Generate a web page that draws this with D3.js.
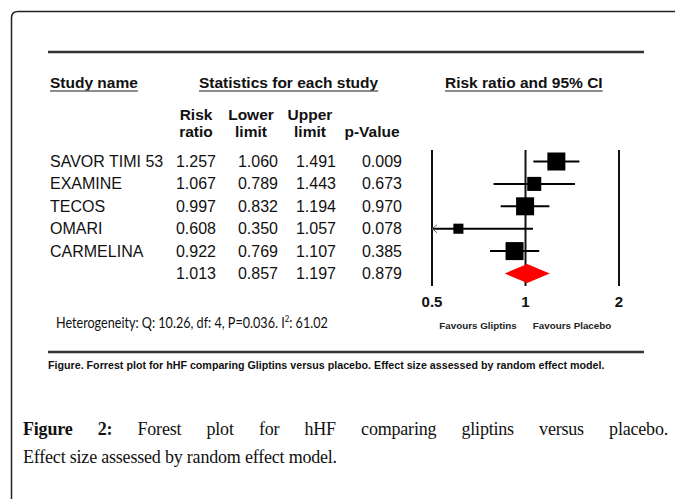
<!DOCTYPE html>
<html>
<head>
<meta charset="utf-8">
<script src="https://cdn.jsdelivr.net/npm/d3@7"></script>
<style>
  body { margin: 0; background: #fff; }
  svg { display: block; }
</style>
</head>
<body>
<svg id="chart"></svg>
<script>
var studies = ["SAVOR TIMI 53", "EXAMINE", "TECOS", "OMARI", "CARMELINA", ""];
var riskRatio = [1.257, 1.067, 0.997, 0.608, 0.922, 1.013];
var lowerLimit = [1.060, 0.789, 0.832, 0.350, 0.769, 0.857];
var upperLimit = [1.491, 1.443, 1.194, 1.057, 1.107, 1.197];
var pValue = ["0.009", "0.673", "0.970", "0.078", "0.385", "0.879"];
// relative weights (estimated from square sizes)
var weights = [25.5, 15.5, 25.5, 8, 25.5];
var axisTicks = [0.5, 1, 2];

var w = 675, h = 499;
var sans = "'Liberation Sans', Arial, sans-serif";

var svg = d3.select("#chart")
    .attr("width", w)
    .attr("height", h);

// frame
svg.append("path")
    .attr("d", "M11.5,499 V18 Q11.5,11.5 18,11.5 H675")
    .attr("fill", "none")
    .attr("stroke", "#222")
    .attr("stroke-width", 1.5);

// top and bottom rules
svg.append("line")
    .attr("x1", 48).attr("x2", 644).attr("y1", 52).attr("y2", 52)
    .attr("stroke", "#333").attr("stroke-width", 2.5);
svg.append("line")
    .attr("x1", 48).attr("x2", 644).attr("y1", 352).attr("y2", 352)
    .attr("stroke", "#333").attr("stroke-width", 2.5);

// headings with underline
function heading(txt, x) {
    var t = svg.append("text")
        .text(txt)
        .attr("x", x).attr("y", 88)
        .attr("font-family", sans)
        .attr("font-size", "15.5px")
        .attr("font-weight", "bold")
        .attr("fill", "#111");
    var len = t.node().getComputedTextLength();
    svg.append("line")
        .attr("x1", x).attr("x2", x + len)
        .attr("y1", 91).attr("y2", 91)
        .attr("stroke", "#666").attr("stroke-width", 1.5);
}
heading("Study name", 50);
heading("Statistics for each study", 199);
heading("Risk ratio and 95% CI", 445);

// column headers
var colHeads = [
    { top: "Risk", bottom: "ratio", x: 196 },
    { top: "Lower", bottom: "limit", x: 251 },
    { top: "Upper", bottom: "limit", x: 310 },
    { top: "", bottom: "p-Value", x: 372 }
];
colHeads.forEach(function (c) {
    svg.append("text").text(c.top)
        .attr("x", c.x).attr("y", 120)
        .attr("text-anchor", "middle")
        .attr("font-family", sans).attr("font-size", "15.5px")
        .attr("font-weight", "bold").attr("fill", "#111");
    svg.append("text").text(c.bottom)
        .attr("x", c.x).attr("y", 137)
        .attr("text-anchor", "middle")
        .attr("font-family", sans).attr("font-size", "15.5px")
        .attr("font-weight", "bold").attr("fill", "#111");
});

// scales
var x = d3.scaleLog().domain([0.5, 2]).range([432, 619]);
var y = d3.scalePoint().domain(d3.range(studies.length)).range([161.5, 273.5]);
var size = d3.scaleSqrt().domain([0, d3.max(weights)]).range([0, 18]);

// table values
var cols = [
    { vals: riskRatio.map(function (d) { return d.toFixed(3); }), x: 216 },
    { vals: lowerLimit.map(function (d) { return d.toFixed(3); }), x: 278 },
    { vals: upperLimit.map(function (d) { return d.toFixed(3); }), x: 336 },
    { vals: pValue, x: 402 }
];
svg.selectAll("text.name")
    .data(studies)
    .enter()
    .append("text")
    .attr("class", "name")
    .text(function (d) { return d; })
    .attr("x", 50)
    .attr("y", function (d, i) { return y(i) + 5.5; })
    .attr("font-family", sans).attr("font-size", "16px").attr("fill", "#111");
cols.forEach(function (c) {
    svg.selectAll(null)
        .data(c.vals)
        .enter()
        .append("text")
        .text(function (d) { return d; })
        .attr("x", c.x)
        .attr("y", function (d, i) { return y(i) + 5.5; })
        .attr("text-anchor", "end")
        .attr("font-family", sans).attr("font-size", "16px").attr("fill", "#111");
});

// reference lines
svg.selectAll("line.ref")
    .data(axisTicks)
    .enter()
    .append("line")
    .attr("class", "ref")
    .attr("x1", function (d) { return x(d); })
    .attr("x2", function (d) { return x(d); })
    .attr("y1", 150).attr("y2", 286)
    .attr("stroke", "#111").attr("stroke-width", 2);

svg.selectAll("text.tick")
    .data(axisTicks)
    .enter()
    .append("text")
    .attr("class", "tick")
    .text(function (d) { return d; })
    .attr("x", function (d) { return x(d); })
    .attr("y", 307)
    .attr("text-anchor", "middle")
    .attr("font-family", sans).attr("font-size", "15px")
    .attr("font-weight", "bold").attr("fill", "#111");

// whiskers
var idx = d3.range(weights.length);
svg.selectAll("line.ci")
    .data(idx)
    .enter()
    .append("line")
    .attr("class", "ci")
    .attr("x1", function (i) { return x(Math.max(lowerLimit[i], 0.5)); })
    .attr("x2", function (i) { return x(Math.min(upperLimit[i], 2)); })
    .attr("y1", function (i) { return y(i); })
    .attr("y2", function (i) { return y(i); })
    .attr("stroke", "#000").attr("stroke-width", 2);

// arrow for clipped lower limits
idx.filter(function (i) { return lowerLimit[i] < 0.5; }).forEach(function (i) {
    var x0 = x(0.5), yy = y(i);
    svg.append("path")
        .attr("d", "M" + (x0 + 5) + "," + (yy - 4) + " L" + x0 + "," + yy + " L" + (x0 + 5) + "," + (yy + 4))
        .attr("fill", "none").attr("stroke", "#666").attr("stroke-width", 1);
});

// squares
svg.selectAll("rect.study")
    .data(idx)
    .enter()
    .append("rect")
    .attr("class", "study")
    .attr("x", function (i) { return x(riskRatio[i]) - size(weights[i]) / 2; })
    .attr("y", function (i) { return y(i) - size(weights[i]) / 2; })
    .attr("width", function (i) { return size(weights[i]); })
    .attr("height", function (i) { return size(weights[i]); })
    .attr("fill", "#000");

// summary diamond
var s = studies.length - 1;
svg.append("path")
    .attr("d", "M" + x(lowerLimit[s]) + "," + y(s) +
        " L" + x(riskRatio[s]) + "," + (y(s) - 9.5) +
        " L" + x(upperLimit[s]) + "," + y(s) +
        " L" + x(riskRatio[s]) + "," + (y(s) + 9.5) + " Z")
    .attr("fill", "#ff0000");

// favours labels
svg.append("text").text("Favours Gliptins")
    .attr("x", 478).attr("y", 329).attr("text-anchor", "middle")
    .attr("font-family", sans).attr("font-size", "9.8px")
    .attr("font-weight", "bold").attr("fill", "#222");
svg.append("text").text("Favours Placebo")
    .attr("x", 572).attr("y", 329).attr("text-anchor", "middle")
    .attr("font-family", sans).attr("font-size", "9.8px")
    .attr("font-weight", "bold").attr("fill", "#222");

// heterogeneity (narrow, Calibri-like)
var het = svg.append("text")
    .attr("transform", "translate(56,328) scale(0.87,1)")
    .attr("font-family", "Lato, 'Open Sans', sans-serif")
    .attr("font-size", "14.5px").attr("fill", "#111");
het.append("tspan").text("Heterogeneity: Q: 10.26, df: 4, P=0.036. I");
het.append("tspan").text("2").attr("font-size", "9px").attr("dy", -6);
het.append("tspan").text(": 61.02").attr("dy", 6);

// small caption
svg.append("text")
    .text("Figure. Forrest plot for hHF comparing Gliptins versus placebo. Effect size assessed by random effect model.")
    .attr("x", 48).attr("y", 369)
    .attr("font-family", sans).attr("font-size", "10.7px")
    .attr("font-weight", "bold").attr("fill", "#111");

// figure caption (first line justified)
var serif = "'Liberation Serif', 'DejaVu Serif', serif";
var line1 = svg.append("text")
    .attr("x", 23).attr("y", 435)
    .attr("font-family", serif).attr("font-size", "18px")
    .attr("letter-spacing", "-0.2px").attr("fill", "#111");
line1.append("tspan").text("Figure 2:").attr("font-weight", "bold");
line1.append("tspan").text(" Forest plot for hHF comparing gliptins versus placebo.");
var natural = line1.node().getComputedTextLength();
var gaps = 9;
line1.attr("word-spacing", Math.max(0, (645 - natural) / gaps));

svg.append("text")
    .text("Effect size assessed by random effect model.")
    .attr("x", 23).attr("y", 463)
    .attr("font-family", serif).attr("font-size", "18px")
    .attr("letter-spacing", "-0.2px").attr("fill", "#111");
</script>
</body>
</html>
